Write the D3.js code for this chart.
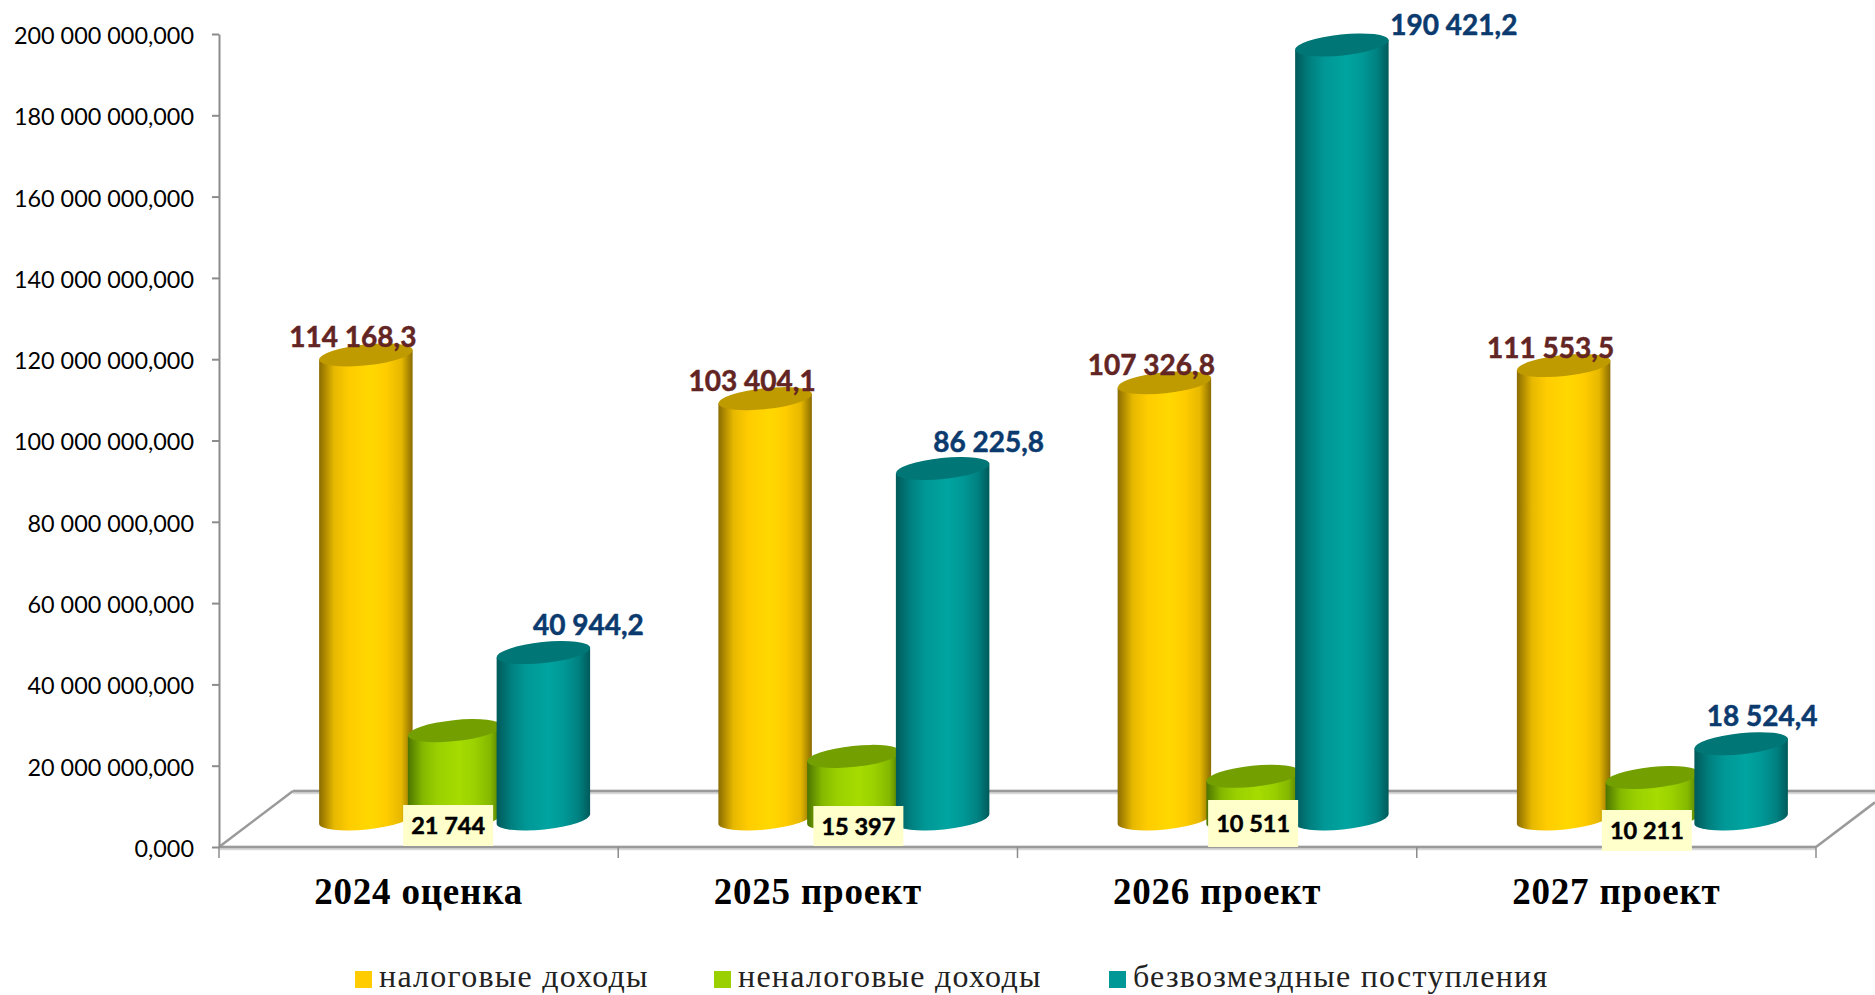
<!DOCTYPE html>
<html><head><meta charset="utf-8">
<script src="https://cdn.jsdelivr.net/npm/d3@7"></script>
<style>
html,body{margin:0;padding:0;background:#fff;overflow:hidden}
svg{display:block}
</style></head><body><svg id="c" width="1875" height="995"></svg>
<script>
// ---- data ----
const categories = ["2024 оценка","2025 проект","2026 проект","2027 проект"];
const seriesNames = ["налоговые доходы","неналоговые доходы","безвозмездные поступления"];
const taxIncome = [114168.3,103404.1,107326.8,111553.5];
const nonTaxIncome = [21744,15397,10511,10211];
const grants = [40944.2,86225.8,190421.2,18524.4];
const axisTicks = [0,20e6,40e6,60e6,80e6,100e6,120e6,140e6,160e6,180e6,200e6];

// ---- layout / style ----
const W=1875,H=995;
const plot={left:219,right:1816,top:34,base:847};
const depth={x:74,y:56}, barShift={x:36,y:28};
const rx=47, ry=10.5, tilt=-6;
const palette=[
 {edge:"#8a6c00",mid1:"#e6b800",mid2:"#ffcc00",core:"#ffd800",top:"#c09b00",label:"#632523"},
 {edge:"#4d7500",mid1:"#84b800",mid2:"#9ad000",core:"#a6dc00",top:"#739f00",label:"#000"},
 {edge:"#005a5a",mid1:"#008080",mid2:"#009896",core:"#00a4a0",top:"#007676",label:"#0b3a6e"}
];
const yellowLabelDx=[-13,-13,-13,-13], tealLabelDx=[45,46,112,21], tealLabelDy=[-18,-16,-10,-18];
const boxDx=[-6.5,4.5,0,-5.5], boxTop=[805,806,800,810], boxBottom=[846,846,847,851];

const loc=d3.formatLocale({decimal:",",thousands:" ",grouping:[3],currency:["",""]});
const fmtTick=loc.format(",.3f"), fmt1=loc.format(",.1f"), fmt0=loc.format(",.0f");

const x=d3.scaleBand().domain(categories).range([plot.left,plot.right]);
const xs=d3.scalePoint().domain(d3.range(3)).range([-88.75,88.75]);
const y=d3.scaleLinear().domain([0,200e6]).range([plot.base,plot.top]);
const svg=d3.select("#c");
const defs=svg.append("defs");
palette.forEach((p,i)=>{
  const g=defs.append("linearGradient").attr("id","g"+i).attr("x1",0).attr("x2",1).attr("y1",0).attr("y2",0);
  [[0,p.edge],[.16,p.mid1],[.32,p.mid2],[.55,p.core],[.72,p.mid2],[.88,p.mid1],[1,p.edge]]
   .forEach(s=>g.append("stop").attr("offset",s[0]).attr("stop-color",s[1]));
});

// ---- floor / walls ----
const axisCol="#9a9a9a";
const floor=svg.append("g").attr("fill","none").attr("stroke",axisCol).attr("stroke-width",2.5);
const backY=plot.base-depth.y, backX=plot.left+depth.x;
[[1,"#d9d9d9",4.5],[0,axisCol,2.5]].forEach(([off,c,w])=>{
  floor.append("path").attr("stroke",c).attr("stroke-width",w)
   .attr("d",`M${backX},${backY+off}H${W}M${plot.left},${plot.base+off}H${plot.right}`);
});
floor.append("path").attr("d",`M${plot.left},${plot.base}L${backX},${backY}`);
floor.append("path").attr("d",`M${plot.right},${plot.base}L${W},${plot.base-(W-plot.right)*depth.y/depth.x}`);

// ---- axes ----
const yAxis=d3.axisLeft(y).tickValues(axisTicks).tickFormat(fmtTick).tickSizeInner(7).tickSizeOuter(0).tickPadding(18);
const gy=svg.append("g").attr("transform",`translate(${plot.left},0)`).call(yAxis);
gy.selectAll("line,path").attr("stroke","#8c8c8c").attr("stroke-width",2);
gy.selectAll("text").attr("font-family","Lato").attr("font-size",23.4).attr("fill","#000").attr("y",1).attr("dy","0.36em");

svg.append("g").selectAll("line").data(d3.range(5)).join("line")
  .attr("x1",i=>plot.left+i*x.step()).attr("x2",i=>plot.left+i*x.step())
  .attr("y1",plot.base).attr("y2",plot.base+11)
  .attr("stroke","#8c8c8c").attr("stroke-width",1.5);

const xAxis=d3.axisBottom(x).tickSize(0).tickPadding(0);
const gx=svg.append("g").attr("transform",`translate(0,${plot.base})`).call(xAxis);
gx.select("path").remove();
gx.selectAll("text").attr("y",57).attr("dy",0).attr("font-family","Liberation Serif")
  .attr("font-weight","bold").attr("font-size",37).attr("letter-spacing",0.8).attr("fill","#000");

// ---- cylinders ----
const dxE=rx*Math.cos(tilt*Math.PI/180), dyE=rx*Math.sin(tilt*Math.PI/180);
const series=[taxIncome,nonTaxIncome,grants];
const cy0=plot.base-barShift.y;
const vY=v=>y(v*1000)-barShift.y;
const cx=(i,s)=>x(categories[i])+x.bandwidth()/2+barShift.x+xs(s);
series.forEach((vals,s)=>{
  const g=svg.append("g");
  vals.forEach((v,i)=>{
    const c=cx(i,s), t=vY(v);
    g.append("path").attr("fill",`url(#g${s})`)
     .attr("d",`M${c-dxE},${t-dyE}L${c-dxE},${cy0-dyE}A${rx},${ry} ${tilt} 0 0 ${c+dxE},${cy0+dyE}L${c+dxE},${t+dyE}Z`);
    g.append("ellipse").attr("rx",rx).attr("ry",ry).attr("fill",palette[s].top)
     .attr("transform",`translate(${c},${t}) rotate(${tilt})`);
  });
});

// ---- value labels ----
const applyFont=(sel,size,col)=>{
  sel.attr("font-family","Lato").attr("font-weight","bold").attr("text-anchor","middle")
     .attr("font-size",size).attr("fill",col).attr("stroke",col).attr("stroke-width",0.5);
};
taxIncome.forEach((v,i)=>{
  svg.append("text").text(fmt1(v)).attr("x",cx(i,0)+yellowLabelDx[i]).attr("y",vY(v)-8)
    .call(applyFont,28,palette[0].label);
});
grants.forEach((v,i)=>{
  svg.append("text").text(fmt1(v)).attr("x",cx(i,2)+tealLabelDx[i]).attr("y",vY(v)+tealLabelDy[i])
    .call(applyFont,28,palette[2].label);
});
nonTaxIncome.forEach((v,i)=>{
  const c=cx(i,1)+boxDx[i], w=90;
  svg.append("rect").attr("x",c-w/2).attr("y",boxTop[i]).attr("width",w).attr("height",boxBottom[i]-boxTop[i]).attr("fill","#ffffcc");
  svg.append("text").text(fmt0(v)).attr("x",c).attr("y",(boxTop[i]+boxBottom[i])/2+8.5)
    .call(applyFont,23.5,"#000");
});

// ---- legend ----
const legendX=[355,714,1109];
seriesNames.forEach((n,i)=>{
  svg.append("rect").attr("x",legendX[i]).attr("y",971).attr("width",17).attr("height",17).attr("fill",palette[i].mid2);
  svg.append("text").text(n).attr("x",legendX[i]+24).attr("y",987)
    .attr("font-family","Liberation Serif").attr("font-size",32).attr("letter-spacing",1.25).attr("fill","#222");
});
</script></body></html>
